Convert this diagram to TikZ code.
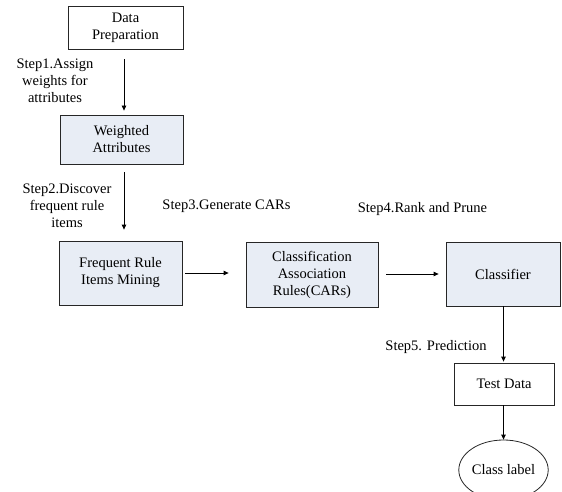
\documentclass[tikz,border=0pt]{standalone}
\usepackage{fontspec}
\setmainfont{Liberation Serif}
\usetikzlibrary{arrows.meta,shapes.geometric}
\definecolor{boxfill}{HTML}{E8EDF5}
\tikzset{
  box/.style={draw=black!85, line width=0.8pt, align=center, inner sep=0pt},
  fbox/.style={box, fill=boxfill},
  lbl/.style={align=center, inner sep=0pt},
  arr/.style={draw=black, line width=0.8pt, -{Triangle[width=4.5pt,length=5pt]}},
}
\begin{document}
\begin{tikzpicture}[x=1pt,y=-1pt,font=\fontsize{14.5}{17}\selectfont]
\useasboundingbox (0,0) rectangle (562,492);
\node[box, minimum width=115pt, minimum height=43pt] (dp) at (125.5,27.5) {Data\\Preparation};
\node[fbox, minimum width=123pt, minimum height=49pt] (wa) at (121.5,139.5) {Weighted\\Attributes};
\node[fbox, minimum width=123pt, minimum height=64pt] (fr) at (120.5,273) {Frequent Rule\\Items Mining};
\node[fbox, minimum width=132pt, minimum height=65pt] (car) at (312,274.5) {Classification\\Association\\Rules(CARs)};
\node[fbox, minimum width=114pt, minimum height=64pt] (cl) at (503,274) {Classifier};
\node[box, minimum width=100pt, minimum height=42pt] (td) at (504,384) {Test Data};
\node[draw=black!85, line width=0.8pt, ellipse, minimum width=86pt, minimum height=60pt, inner sep=0pt] (cls) at (503.5,470) {Class label};

\node[lbl] (s1) at (55,81) {Step1.Assign\\weights for\\attributes};
\node[lbl] (s2) at (67,206) {Step2.Discover\\frequent rule\\items};
\node[lbl] (s3) at (226.5,206) {Step3.Generate CARs};
\node[lbl] (s4) at (422.5,209) {Step4.Rank and Prune};
\node[lbl] (s5) at (436,347) {Step5. Prediction};

\coordinate (ax) at (124,0);
\coordinate (bx) at (503.5,0);
\draw[arr, shorten <=10pt, shorten >=4pt] (dp.south -| ax) -- (wa.north -| ax);
\draw[arr, shorten <=8pt, shorten >=11pt] (wa.south -| ax) -- (fr.north -| ax);
\draw[arr, shorten <=3pt, shorten >=17pt] (fr.east) -- (fr.east -| car.west);
\draw[arr, shorten <=8pt, shorten >=7pt] (car.east |- cl.west) -- (cl.west);
\draw[arr, shorten >=1pt] (cl.south -| bx) -- (td.north -| bx);
\draw[arr] (td.south -| bx) -- (cls.north -| bx);
\end{tikzpicture}
\end{document}
